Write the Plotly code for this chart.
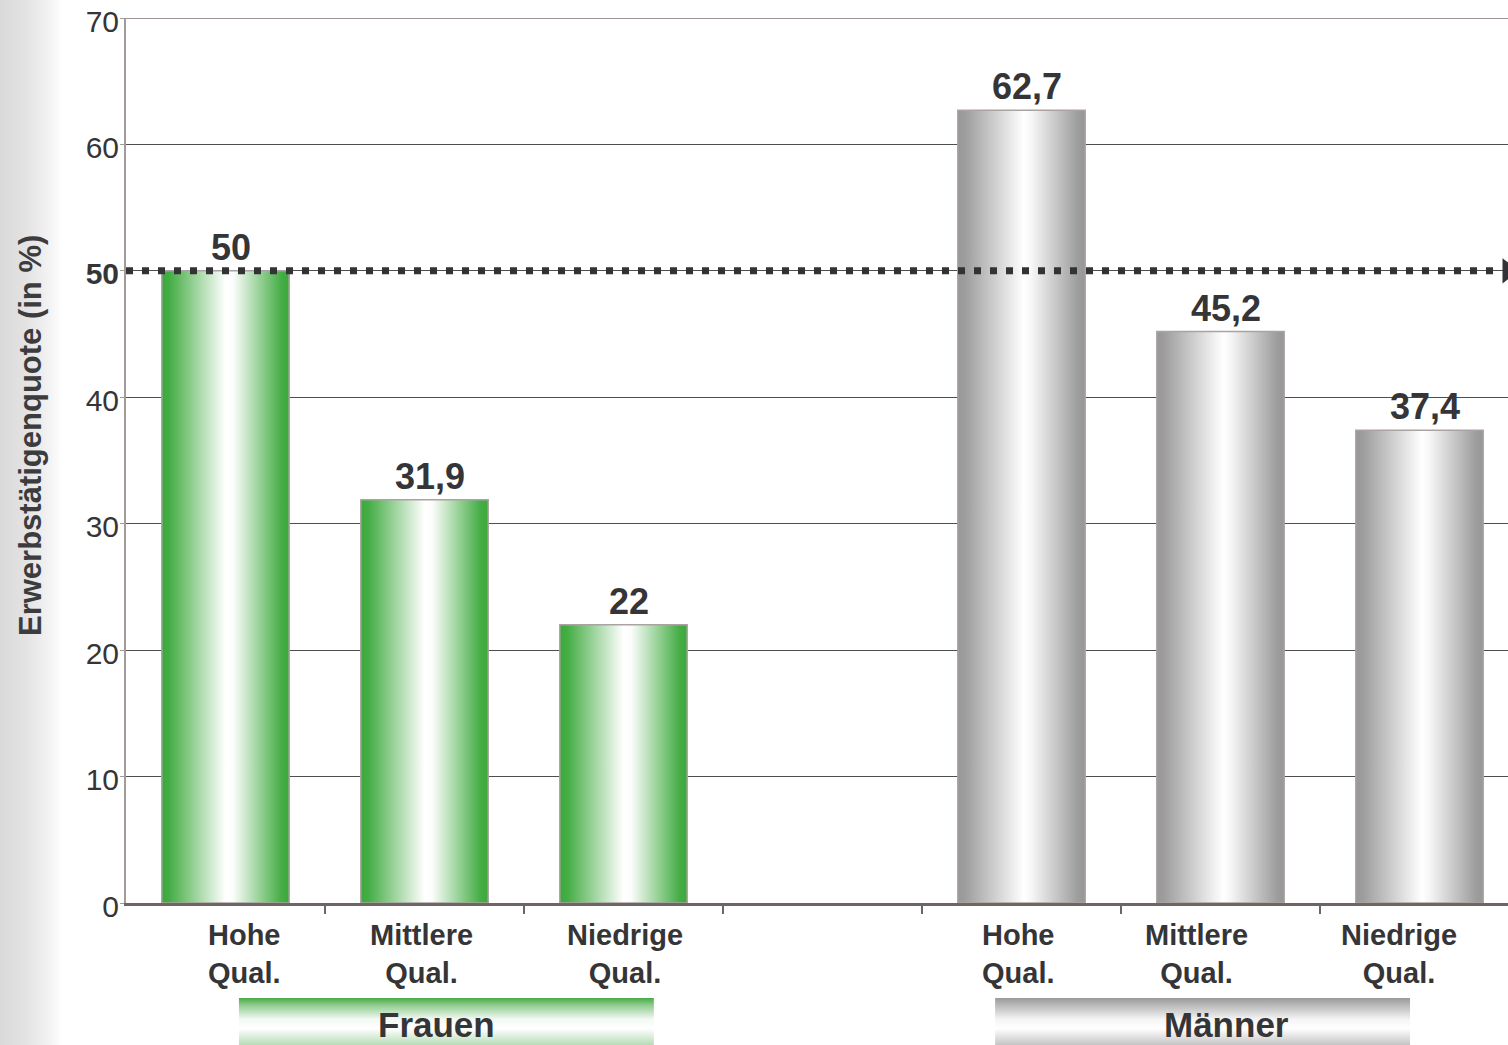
import plotly.graph_objects as go

# ---- data -------------------------------------------------------------
groups = ["Frauen", "Männer"]
qualifications = ["Hohe<br>Qual.", "Mittlere<br>Qual.", "Niedrige<br>Qual."]
frauen_values = [50, 31.9, 22]
maenner_values = [62.7, 45.2, 37.4]
reference_level = 50
y_ticks = [0, 10, 20, 30, 40, 50, 60, 70]
y_title = "Erwerbstätigenquote (in %)"

# ---- layout constants ------------------------------------------------
W, H = 1508, 1045
FONT = "Liberation Sans, Arial, Helvetica, sans-serif"
TEXT = "#353537"
X0_PX, Y0_PX, Y70_PX = 126, 903, 18
SLOT_PX = 199
x_range = [-0.5, -0.5 + (W - X0_PX) / SLOT_PX]
bar_width = 0.64

# slot positions: three Frauen bars, one empty slot, three Männer bars
frauen_x = [0, 1, 2]
maenner_x = [4, 5, 6]
# horizontal nudges of the category captions (in slot units)
frauen_label_dx = [0.095, -0.013, 0.008]
maenner_label_dx = [-0.015, -0.123, -0.103]
# group caption boxes: centre offset from group middle, width in slots
box_dx = {"Frauen": 0.11, "Männer": -0.09}
text_dx = {"Frauen": 0.06, "Männer": 0.03}
box_w = 2.085

green_scale = [[0, "#3aa93a"], [0.06, "#45ad45"], [0.5, "#ffffff"],
               [0.56, "#fbfdfb"], [0.94, "#45ad45"], [1, "#3aa93a"]]
grey_scale = [[0, "#979797"], [0.06, "#9e9e9e"], [0.52, "#ffffff"],
              [0.58, "#f6f6f6"], [0.94, "#9e9e9e"], [1, "#969696"]]
green_box_scale = [[0, "#b5dcb5"], [0.35, "#ffffff"], [0.55, "#f3f9f3"],
                   [0.85, "#8fcb8f"], [1, "#45ab45"]]
grey_box_scale = [[0, "#c4c4c4"], [0.35, "#ffffff"], [0.55, "#f4f4f4"],
                  [0.85, "#b8b8b8"], [1, "#9a9a9a"]]


def fmt(v):
    return f"{v:g}".replace(".", ",")


fig = go.Figure()

# soft grey strip along the left edge of the page
fig.add_trace(go.Scatter(
    x=[0, 62, 62, 0, 0], y=[0, 0, H, H, 0], mode="lines", fill="toself",
    line=dict(width=0), hoverinfo="skip", showlegend=False,
    fillgradient=dict(type="horizontal",
                      colorscale=[[0, "#d9d9d9"], [0.45, "#e4e4e4"],
                                  [0.8, "#f3f3f3"], [1, "#ffffff"]]),
    xaxis="x3", yaxis="y3"))

# bars drawn as gradient-filled rectangles on the value axis
for xs, vals, scale in [(frauen_x, frauen_values, green_scale),
                        (maenner_x, maenner_values, grey_scale)]:
    for xc, v in zip(xs, vals):
        l, r = xc - bar_width / 2, xc + bar_width / 2
        fig.add_trace(go.Scatter(
            x=[l, r, r, l, l], y=[0, 0, v, v, 0], mode="lines", fill="toself",
            line=dict(color="#aba3a1", width=1.5),
            fillgradient=dict(type="horizontal", colorscale=scale),
            hoverinfo="skip", showlegend=False))
        fig.add_annotation(x=xc, y=v, text=f"<b>{fmt(v)}</b>", showarrow=False,
                           xanchor="center", yanchor="bottom",
                           xshift=5, yshift=1,
                           font=dict(family=FONT, size=36, color=TEXT))

# dotted 50 % reference line with arrow head
fig.add_trace(go.Scatter(
    x=[x_range[0], x_range[1] - 0.03], y=[reference_level, reference_level],
    mode="lines", line=dict(color="#333335", width=7, dash="7px,9px"),
    hoverinfo="skip", showlegend=False))
fig.add_trace(go.Scatter(
    x=[x_range[1]], y=[reference_level], mode="markers",
    marker=dict(symbol="triangle-right", size=22, color="#333335"),
    cliponaxis=False, hoverinfo="skip", showlegend=False))

# category captions under the bars
for xs, dxs in [(frauen_x, frauen_label_dx), (maenner_x, maenner_label_dx)]:
    for xc, dx, lab in zip(xs, dxs, qualifications):
        fig.add_annotation(x=xc + dx, xref="x", y=(H - 917) / H, yref="paper",
                           text=f"<b>{lab}</b>", showarrow=False,
                           xanchor="center", yanchor="top", align="center",
                           font=dict(family=FONT, size=29, color=TEXT))

# group caption boxes with vertical gradient
for name, xs, scale in [("Frauen", frauen_x, green_box_scale),
                        ("Männer", maenner_x, grey_box_scale)]:
    mid = sum(xs) / len(xs)
    c = mid + box_dx[name]
    l, r = c - box_w / 2, c + box_w / 2
    fig.add_trace(go.Scatter(
        x=[l, r, r, l, l], y=[0, 0, 1, 1, 0], mode="lines", fill="toself",
        line=dict(width=0), hoverinfo="skip", showlegend=False,
        fillgradient=dict(type="vertical", colorscale=scale),
        xaxis="x2", yaxis="y2"))
    fig.add_annotation(x=mid + text_dx[name], xref="x2", y=0.44, yref="y2",
                       text=f"<b>{name}</b>", showarrow=False,
                       xanchor="center",
                       font=dict(family=FONT, size=35, color=TEXT))

# top border of the plotting area
fig.add_shape(type="line", xref="x", yref="y", x0=x_range[0], x1=x_range[1],
              y0=y_ticks[-1], y1=y_ticks[-1],
              line=dict(color="#9e9694", width=2), layer="above")

# y-axis title
fig.add_annotation(x=30 / W, xref="paper", y=(H - 436) / H, yref="paper",
                   text=f"<b>{y_title}</b>", textangle=-90, showarrow=False,
                   xanchor="center", yanchor="middle",
                   font=dict(family=FONT, size=31, color="#3c3c3e"))

tick_text = [f"<b>{t}</b>" if t == reference_level else str(t) for t in y_ticks]

fig.update_layout(
    width=W, height=H, autosize=False,
    margin=dict(l=0, r=0, t=0, b=0, pad=0),
    paper_bgcolor="white", plot_bgcolor="rgba(0,0,0,0)",
    showlegend=False,
    font=dict(family=FONT, color=TEXT),
    xaxis=dict(domain=[X0_PX / W, 1], range=x_range, showgrid=False,
               zeroline=False, showline=True, linecolor="#6e6664",
               linewidth=2.5, ticks="outside", ticklen=8, tickwidth=1.5,
               tickcolor="#6e6664", automargin=False,
               tickvals=[i + 0.5 for i in range(6)], showticklabels=False,
               fixedrange=True),
    yaxis=dict(domain=[(H - Y0_PX) / H, (H - Y70_PX) / H],
               range=[y_ticks[0], y_ticks[-1]],
               tickvals=y_ticks, ticktext=tick_text,
               tickfont=dict(family=FONT, size=30, color=TEXT),
               showgrid=True, gridcolor="#4e4e4e", gridwidth=1,
               zeroline=False, showline=True, linecolor="#a39b99",
               linewidth=2, ticks="outside", ticklen=4, tickcolor="#a39b99",
               ticklabelstandoff=-5, ticklabelshift=3,
               automargin=False, fixedrange=True),
    xaxis2=dict(domain=[X0_PX / W, 1], range=x_range, anchor="y2",
                visible=False, fixedrange=True, automargin=False),
    yaxis2=dict(domain=[0, (H - 998) / H], range=[0, 1], anchor="x2",
                visible=False, fixedrange=True, automargin=False),
    xaxis3=dict(domain=[0, 1], range=[0, W], anchor="y3", visible=False,
                fixedrange=True, automargin=False),
    yaxis3=dict(domain=[0, 1], range=[0, H], anchor="x3", visible=False,
                fixedrange=True, automargin=False),
)

fig.write_html("out.html")
